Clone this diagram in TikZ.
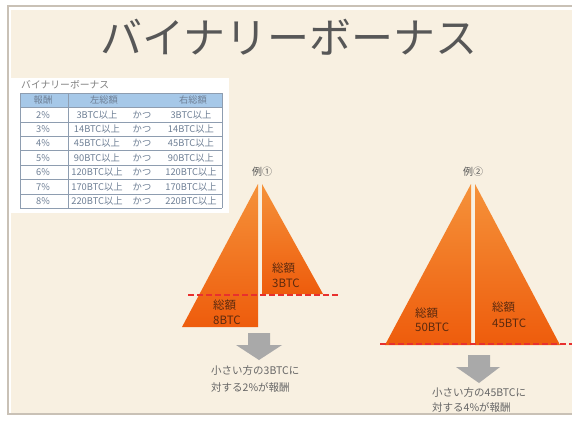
\documentclass[tikz,border=0pt]{standalone}
\usepackage{fontspec}
\setmainfont{Noto Sans CJK JP}
\definecolor{framegray}{HTML}{C9C1B6}
\definecolor{cream}{HTML}{F8F0E1}
\definecolor{titlegray}{HTML}{575757}
\definecolor{tblue}{HTML}{6E7F95}
\definecolor{tline}{HTML}{8E9DB0}
\definecolor{thead}{HTML}{A6C8E8}
\definecolor{otop}{HTML}{F5923A}
\definecolor{obot}{HTML}{EE5C0C}
\definecolor{lbrown}{HTML}{5C2A0E}
\definecolor{dred}{HTML}{E8302E}
\definecolor{agray}{HTML}{A9A9A9}
\definecolor{txtgray}{HTML}{666666}
\tikzset{
  tcell/.style={font=\fontsize{9.3}{9.3}\selectfont, text=tblue, inner sep=0pt},
  tri/.style={top color=otop, bottom color=obot, draw=none},
  lbl/.style={font=\fontsize{11.5}{11.5}\selectfont, text=lbrown, anchor=west, inner sep=0pt},
  note/.style={font=\fontsize{10.5}{10.5}\selectfont, text=txtgray, anchor=west, inner sep=0pt},
  exlabel/.style={font=\fontsize{10}{10}\selectfont, text=titlegray, inner sep=0pt},
  cutline/.style={dred, line width=1.2pt, dash pattern=on 5.5pt off 3.5pt},
  downarrow/.style={fill=agray, draw=none}
}
\begin{document}
\begin{tikzpicture}[x=1pt,y=-1pt]
\useasboundingbox (0,0) rectangle (572,421);
\fill[white] (0,0) rectangle (572,421);
% frame
\fill[framegray] (7,5) rectangle (572,7.2);
\fill[framegray] (7,5) rectangle (8.8,415);
\fill[framegray] (7,412.5) rectangle (572,415);
\fill[cream] (10.5,10) rectangle (572,412.5);

% title
\node[font=\fontsize{42}{42}\selectfont, text=titlegray, inner sep=0pt] (title) at (289,37) {バイナリーボーナス};

% table box
\fill[white] (11,78) rectangle (229,213);
\node[font=\fontsize{9.8}{9.8}\selectfont, text=gray, anchor=west, inner sep=0pt] (tsub) at (21,85) {バイナリーボーナス};
\fill[thead] (20,93) rectangle (222,107.4);
\foreach \k in {0,...,8} {
  \draw[tline, line width=0.5pt] (20,93+14.4*\k) -- (222,93+14.4*\k);
}
\draw[tline, line width=0.5pt] (20,93) -- (20,208.2);
\draw[tline, line width=0.5pt] (68,93) -- (68,208.2);
\draw[tline, line width=0.5pt] (222,93) -- (222,208.2);
\node[tcell] (h1) at (43,100.2) {報酬};
\node[tcell] (h2) at (104,100.2) {左総額};
\node[tcell] (h3) at (193,100.2) {右総額};
\foreach \r/\p/\v [count=\i from 0] in {2/2\%/3,3/3\%/14,4/4\%/45,5/5\%/90,6/6\%/120,7/7\%/170,8/8\%/220} {
  \node[tcell] (p\r) at (43,114.6+14.4*\i) {\p};
  \node[tcell] (l\r) at (97,114.6+14.4*\i) {\v BTC以上};
  \node[tcell] (k\r) at (142,114.6+14.4*\i) {かつ};
  \node[tcell] (r\r) at (191,114.6+14.4*\i) {\v BTC以上};
}

% example 1
\node[exlabel] (ex1) at (262,172) {例①};
\shade[tri] (258,184) -- (182,327) -- (258,327) -- cycle;
\shade[tri] (262,184) -- (262,294) -- (323,294) -- cycle;
\coordinate (c1a) at (188,295);
\coordinate (c1b) at (338,295);
\draw[cutline] (c1a) -- (c1b);
\node[lbl] (r1a) at (272,268) {総額};
\node[lbl] (r1b) at (272,283) {3BTC};
\node[lbl] (l1a) at (213,305) {総額};
\node[lbl] (l1b) at (213,320) {8BTC};
\fill[downarrow] (248,333) -- (270,333) -- (270,345) -- (282,345) -- (259,360) -- (236,345) -- (248,345) -- cycle;
\node[note] (n1a) at (211,371) {小さい方の3BTCに};
\node[note] (n1b) at (211,387) {対する2\%が報酬};

% example 2
\node[exlabel] (ex2) at (473,172) {例②};
\shade[tri] (471,184) -- (385,345) -- (471,345) -- cycle;
\shade[tri] (475,184) -- (475,345) -- (560,345) -- cycle;
\coordinate (c2a) at (380,344);
\coordinate (c2b) at (572,344);
\draw[cutline] (c2a) -- (c2b);
\node[lbl] (l2a) at (415,313) {総額};
\node[lbl] (l2b) at (415,327) {50BTC};
\node[lbl] (r2a) at (492,307) {総額};
\node[lbl] (r2b) at (492,323) {45BTC};
\fill[downarrow] (468,355) -- (490,355) -- (490,367) -- (500,367) -- (479,383) -- (456,367) -- (468,367) -- cycle;
\node[note] (n2a) at (432,393) {小さい方の45BTCに};
\node[note] (n2b) at (432,407) {対する4\%が報酬};
\end{tikzpicture}
\end{document}
